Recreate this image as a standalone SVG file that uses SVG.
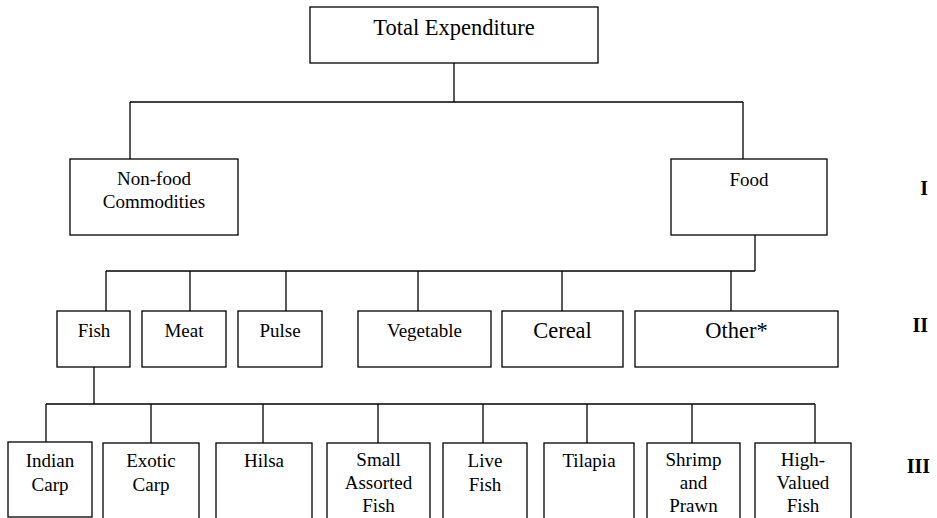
<svg xmlns="http://www.w3.org/2000/svg" width="937" height="518" viewBox="0 0 937 518">
<style>
rect.box{fill:#fff;stroke:#000;stroke-width:1.3}
.c line{stroke:#000;stroke-width:1.3}
text{font-family:"Liberation Serif","Times New Roman",serif;fill:#000;text-anchor:middle}
.t19{font-size:19px}
.t22{font-size:22.5px}
.lvl{font-size:20px;font-weight:bold;text-anchor:end}
</style>
<rect width="937" height="518" fill="#fff"/>
<g id="connectors" class="c">
<line x1="454" y1="63" x2="454" y2="102"/>
<line x1="130" y1="102" x2="743" y2="102"/>
<line x1="130" y1="102" x2="130" y2="159"/>
<line x1="743" y1="102" x2="743" y2="159"/>
<line x1="755" y1="235" x2="755" y2="271"/>
<line x1="106" y1="271" x2="755" y2="271"/>
<line x1="106" y1="271" x2="106" y2="311"/>
<line x1="190" y1="271" x2="190" y2="311"/>
<line x1="286" y1="271" x2="286" y2="311"/>
<line x1="418" y1="271" x2="418" y2="311"/>
<line x1="562" y1="271" x2="562" y2="311"/>
<line x1="731" y1="271" x2="731" y2="311"/>
<line x1="94" y1="367" x2="94" y2="404"/>
<line x1="46" y1="404" x2="815" y2="404"/>
<line x1="46" y1="404" x2="46" y2="442"/>
<line x1="151" y1="404" x2="151" y2="443"/>
<line x1="263" y1="404" x2="263" y2="443"/>
<line x1="378" y1="404" x2="378" y2="443"/>
<line x1="483" y1="404" x2="483" y2="443"/>
<line x1="587" y1="404" x2="587" y2="443"/>
<line x1="692" y1="404" x2="692" y2="443"/>
<line x1="815" y1="404" x2="815" y2="443"/>
</g>
<g id="total"><rect class="box" x="310" y="7" width="288" height="56"/><text class="t22" x="454" y="35">Total Expenditure</text></g>
<g id="nonfood"><rect class="box" x="70" y="159" width="168" height="76"/><text class="t19" x="154" y="185">Non-food</text><text class="t19" x="154" y="208">Commodities</text></g>
<g id="food"><rect class="box" x="671" y="159" width="156" height="76"/><text class="t19" x="749" y="186">Food</text></g>
<g id="fish"><rect class="box" x="57" y="311" width="73" height="56"/><text class="t19" x="94" y="337">Fish</text></g>
<g id="meat"><rect class="box" x="142" y="311" width="84" height="56"/><text class="t19" x="184" y="337">Meat</text></g>
<g id="pulse"><rect class="box" x="238" y="311" width="84" height="56"/><text class="t19" x="280" y="337">Pulse</text></g>
<g id="vegetable"><rect class="box" x="358" y="311" width="133" height="56"/><text class="t19" x="424.5" y="337">Vegetable</text></g>
<g id="cereal"><rect class="box" x="502" y="311" width="121" height="56"/><text class="t22" x="562.5" y="338">Cereal</text></g>
<g id="other"><rect class="box" x="635" y="311" width="203" height="56"/><text class="t22" x="736.5" y="338">Other*</text></g>
<g id="indiancarp"><rect class="box" x="8" y="442" width="84" height="75"/><text class="t19" x="50" y="467">Indian</text><text class="t19" x="50" y="491">Carp</text></g>
<g id="exoticcarp"><rect class="box" x="103" y="443" width="96" height="80"/><text class="t19" x="151" y="467">Exotic</text><text class="t19" x="151" y="491">Carp</text></g>
<g id="hilsa"><rect class="box" x="216" y="443" width="96" height="80"/><text class="t19" x="264" y="467">Hilsa</text></g>
<g id="smallassorted"><rect class="box" x="327" y="443" width="103" height="80"/><text class="t19" x="378.5" y="466">Small</text><text class="t19" x="378.5" y="489">Assorted</text><text class="t19" x="378.5" y="512">Fish</text></g>
<g id="livefish"><rect class="box" x="443" y="443" width="84" height="80"/><text class="t19" x="485" y="467">Live</text><text class="t19" x="485" y="491">Fish</text></g>
<g id="tilapia"><rect class="box" x="544" y="443" width="90" height="80"/><text class="t19" x="589" y="467">Tilapia</text></g>
<g id="shrimp"><rect class="box" x="647" y="443" width="93" height="80"/><text class="t19" x="693.5" y="466">Shrimp</text><text class="t19" x="693.5" y="489">and</text><text class="t19" x="693.5" y="512">Prawn</text></g>
<g id="highvalued"><rect class="box" x="755" y="443" width="96" height="80"/><text class="t19" x="803" y="466">High-</text><text class="t19" x="803" y="489">Valued</text><text class="t19" x="803" y="512">Fish</text></g>
<g id="levels"><text class="lvl" x="928" y="195">I</text><text class="lvl" x="928" y="332">II</text><text class="lvl" x="930" y="473">III</text></g>
</svg>
